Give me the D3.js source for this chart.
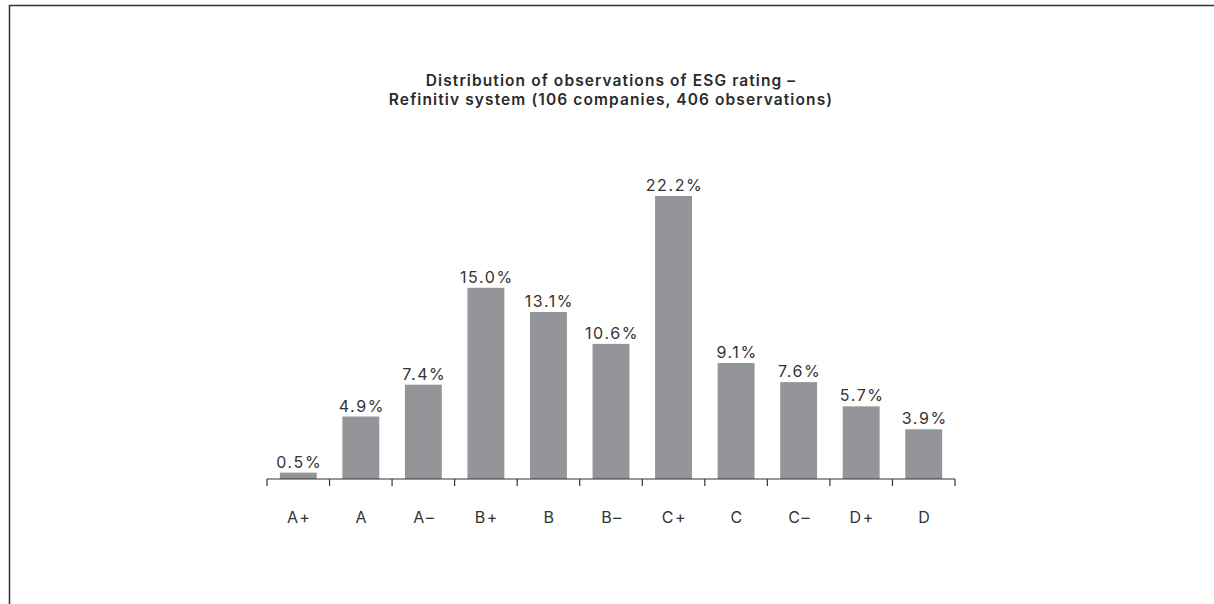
<!DOCTYPE html>
<html>
<head>
<meta charset="utf-8">
<script src="https://cdn.jsdelivr.net/npm/d3@7"></script>
<style>
  body { margin: 0; background: #fff; }
  svg { display: block; font-family: "Inter", "Open Sans", sans-serif; }
</style>
</head>
<body>
<div class="canvas"></div>
<script>
const ratings = ["A+", "A", "A–", "B+", "B", "B–", "C+", "C", "C–", "D+", "D"]
const shares = [0.5, 4.9, 7.4, 15.0, 13.1, 10.6, 22.2, 9.1, 7.6, 5.7, 3.9]
const titleLines = [
    "Distribution of observations of ESG rating –",
    "Refinitiv system (106 companies, 406 observations)"
]

const width = 1214
const height = 604

const svg = d3.select(".canvas")
    .append("svg")
    .attr("width", width)
    .attr("height", height)

// frame line round the figure
svg.append("path")
    .attr("d", `M9.5,${height} V5.5 H${width}`)
    .attr("fill", "none")
    .attr("stroke", "#333")
    .attr("stroke-width", 1.5)

const margin = { top: 196, left: 267, right: 259, bottom: 125 }
const graphWidth = width - margin.left - margin.right
const graphHeight = height - margin.top - margin.bottom

const graph = svg.append("g")
    .attr("transform", `translate(${margin.left}, ${margin.top})`)

const scaleX = d3.scaleBand()
    .domain(ratings)
    .range([0, graphWidth])
    .paddingInner(0.41)
    .paddingOuter(0.205)

const scaleY = d3.scaleLinear()
    .domain([0, 22.2])
    .range([graphHeight, 0])

const data = ratings.map((r, i) => ({ rating: r, value: shares[i] }))

graph.selectAll("rect")
    .data(data)
    .enter()
    .append("rect")
    .attr("x", d => scaleX(d.rating))
    .attr("y", d => scaleY(d.value))
    .attr("width", scaleX.bandwidth())
    .attr("height", d => graphHeight - scaleY(d.value))
    .attr("fill", "#939598")

graph.selectAll(".val")
    .data(data)
    .enter()
    .append("text")
    .attr("class", "val")
    .attr("x", d => scaleX(d.rating) + scaleX.bandwidth() / 2 + 1)
    .attr("y", d => scaleY(d.value) - 5)
    .attr("text-anchor", "middle")
    .attr("font-size", 16)
    .attr("letter-spacing", 1.6)
    .attr("fill", "#333")
    .text(d => d.value.toFixed(1) + "%")

// axis with ticks between the bands
const step = scaleX.step()
const edges = d3.range(ratings.length + 1).map(i => i * step)
const xAxisGroup = graph.append("g")
    .attr("transform", `translate(0, ${graphHeight})`)

xAxisGroup.append("line")
    .attr("x1", 0).attr("x2", graphWidth)
    .attr("stroke", "#333").attr("stroke-width", 1.2)

xAxisGroup.selectAll(".tick")
    .data(edges)
    .enter()
    .append("line")
    .attr("class", "tick")
    .attr("x1", d => d).attr("x2", d => d)
    .attr("y1", 0).attr("y2", 7)
    .attr("stroke", "#333").attr("stroke-width", 1.2)

xAxisGroup.selectAll(".cat")
    .data(ratings)
    .enter()
    .append("text")
    .attr("class", "cat")
    .attr("x", d => scaleX(d) + scaleX.bandwidth() / 2 + 1)
    .attr("y", 44)
    .attr("text-anchor", "middle")
    .attr("font-size", 16)
    .attr("letter-spacing", 1.6)
    .attr("fill", "#333")
    .text(d => d)

svg.selectAll(".title")
    .data(titleLines)
    .enter()
    .append("text")
    .attr("class", "title")
    .attr("x", margin.left + graphWidth / 2)
    .attr("y", (d, i) => 86 + i * 19)
    .attr("text-anchor", "middle")
    .attr("font-size", 15.5)
    .attr("font-weight", 600)
    .attr("letter-spacing", 1.1)
    .attr("fill", "#2b2b2b")
    .text(d => d)
</script>
</body>
</html>
